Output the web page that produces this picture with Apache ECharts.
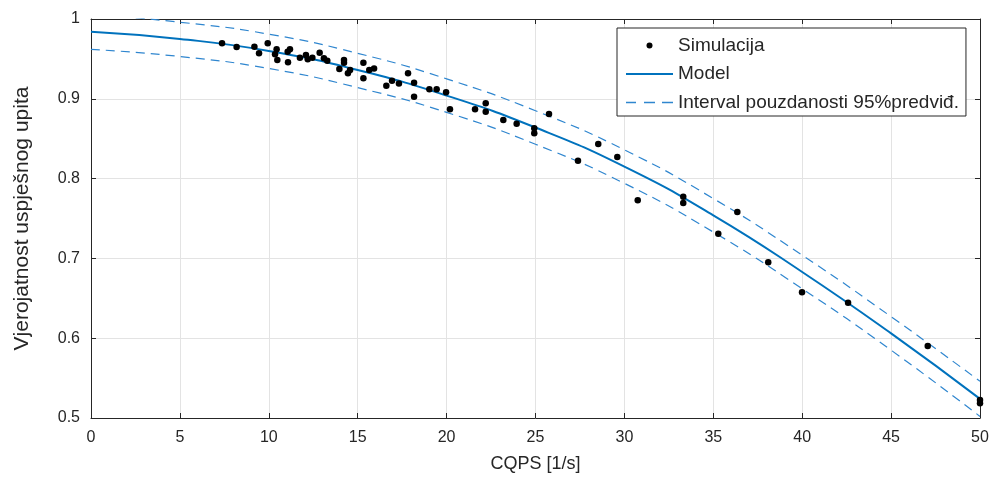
<!DOCTYPE html>
<html>
<head>
<meta charset="utf-8">
<script src="https://cdn.jsdelivr.net/npm/echarts@6/dist/echarts.min.js"></script>
<style>
html,body{margin:0;padding:0;background:#fff;}
#chart{width:992px;height:479px;}
</style>
</head>
<body>
<div id="chart"></div>
<script>
// ---- data ----
const simX = [7.37, 8.19, 9.19, 9.45, 9.94, 10.44, 10.35, 10.48, 11.06, 11.19, 11.08, 11.75, 12.09, 12.19, 12.45, 12.86, 13.10, 13.29,
  13.97, 14.23, 14.23, 14.45, 14.57, 15.32, 15.32, 15.65, 15.92, 16.61, 16.93, 17.32, 17.83, 18.17, 18.17, 19.03, 19.44, 19.97, 20.19,
  21.60, 22.20, 22.20, 23.19, 23.94, 24.93, 24.93, 25.76, 27.39, 28.53, 29.60, 30.75, 33.31, 33.31, 35.28, 36.35, 38.09, 39.99,
  42.58, 47.06, 50.0, 50.0];
const simY = [0.9695, 0.965, 0.9653, 0.957, 0.9695, 0.962, 0.9558, 0.9486, 0.959, 0.962, 0.9457, 0.9515, 0.955, 0.9495, 0.9515, 0.9578, 0.9507, 0.9478,
  0.9373, 0.9486, 0.9453, 0.932, 0.936, 0.9453, 0.9257, 0.936, 0.938, 0.9165, 0.9227, 0.9193, 0.932, 0.9202, 0.9026, 0.9119, 0.9119, 0.9081, 0.8868,
  0.8868, 0.8944, 0.8838, 0.8734, 0.8688, 0.863, 0.8568, 0.881, 0.8224, 0.8434, 0.827, 0.7728, 0.7774, 0.7694, 0.731, 0.7581, 0.6951, 0.6575,
  0.6445, 0.5902, 0.5226, 0.5184];
const curveX = [0, 5, 10, 15, 20, 25, 30, 35, 40, 45, 50];
const modelY = [0.984, 0.975, 0.960, 0.936, 0.904, 0.864, 0.815, 0.754, 0.683, 0.606, 0.524];
const upperY = [1.006, 0.996, 0.981, 0.957, 0.925, 0.885, 0.836, 0.775, 0.704, 0.627, 0.546];
const lowerY = [0.962, 0.953, 0.938, 0.914, 0.883, 0.843, 0.794, 0.733, 0.662, 0.585, 0.502];
const xTicks = [0, 5, 10, 15, 20, 25, 30, 35, 40, 45, 50];
const yTicks = [0.5, 0.6, 0.7, 0.8, 0.9, 1];
const legendNames = ['Simulacija', 'Model', 'Interval pouzdanosti 95%predviđ.'];
const xTitle = 'CQPS [1/s]';
const yTitle = 'Vjerojatnost uspješnog upita';

const FONT = 'Liberation Sans, Arial, sans-serif';
const TXT = '#262626';
const BLUE = '#0072BD';
const DASHBLUE = '#2f86cf';

const zip = (xs, ys) => xs.map((x, i) => [x, ys[i]]);

// legend icons (47 x 14 box kept by the leading move-to points)
const ICON_DOT = 'path://M0,0 M47,14 M20.5,7 A3,3 0 1 1 26.5,7 A3,3 0 1 1 20.5,7 Z';
const ICON_LINE = 'path://M0,0 M47,14 M0,6 L47,6 L47,8 L0,8 Z';
const ICON_DASH = 'path://M0,0 M47,14 M0,6.3 L10,6.3 L10,7.7 L0,7.7 Z M18,6.3 L29,6.3 L29,7.7 L18,7.7 Z M36,6.3 L47,6.3 L47,7.7 L36,7.7 Z';

const chart = echarts.init(document.getElementById('chart'), null, {renderer: 'canvas'});
const baseX = {
  type: 'value', min: xTicks[0], max: xTicks[xTicks.length - 1], interval: xTicks[1] - xTicks[0]
};
const baseY = {
  type: 'value', min: yTicks[0], max: yTicks[yTicks.length - 1], interval: 0.1
};
chart.setOption({
  animation: false,
  backgroundColor: '#ffffff',
  textStyle: {fontFamily: FONT},
  grid: {left: 91, top: 19, width: 889, height: 399, containLabel: false},
  legend: {
    orient: 'vertical', left: 617, top: 28,
    backgroundColor: '#ffffff', borderColor: TXT, borderWidth: 1,
    padding: [8, 7, 4, 9],
    itemWidth: 47, itemHeight: 14, itemGap: 9.5,
    textStyle: {fontFamily: FONT, fontSize: 19, color: TXT, lineHeight: 17},
    data: [
      {name: legendNames[0], icon: ICON_DOT, itemStyle: {color: '#000'}},
      {name: legendNames[1], icon: ICON_LINE, itemStyle: {color: BLUE}},
      {name: legendNames[2], icon: ICON_DASH, itemStyle: {color: DASHBLUE}}
    ]
  },
  xAxis: [
    Object.assign({}, baseX, {
      position: 'bottom',
      name: xTitle, nameLocation: 'middle', nameGap: 37,
      nameTextStyle: {fontFamily: FONT, fontSize: 18, color: TXT},
      axisLine: {show: true, onZero: false, lineStyle: {color: TXT, width: 1}},
      axisTick: {show: true, inside: true, length: 5, lineStyle: {color: TXT}},
      axisLabel: {show: true, margin: 12, fontFamily: FONT, fontSize: 16, color: TXT},
      splitLine: {show: true, lineStyle: {color: '#e3e3e3', width: 1}}
    }),
    Object.assign({}, baseX, {
      position: 'top',
      axisLine: {show: true, onZero: false, lineStyle: {color: TXT, width: 1}},
      axisTick: {show: true, inside: true, length: 5, lineStyle: {color: TXT}},
      axisLabel: {show: false},
      splitLine: {show: false}
    })
  ],
  yAxis: [
    Object.assign({}, baseY, {
      position: 'left',
      name: yTitle, nameLocation: 'middle', nameGap: 58, nameRotate: 90,
      nameTextStyle: {fontFamily: FONT, fontSize: 21, color: TXT},
      axisLine: {show: true, onZero: false, lineStyle: {color: TXT, width: 1}},
      axisTick: {show: true, inside: true, length: 5, lineStyle: {color: TXT}},
      axisLabel: {show: true, margin: 11, fontFamily: FONT, fontSize: 16, color: TXT},
      splitLine: {show: true, lineStyle: {color: '#e3e3e3', width: 1}}
    }),
    Object.assign({}, baseY, {
      position: 'right',
      axisLine: {show: true, onZero: false, lineStyle: {color: TXT, width: 1}},
      axisTick: {show: true, inside: true, length: 5, lineStyle: {color: TXT}},
      axisLabel: {show: false},
      splitLine: {show: false}
    })
  ],
  series: [
    {
      name: legendNames[0], type: 'scatter', data: zip(simX, simY),
      symbol: 'circle', symbolSize: 6.5, itemStyle: {color: '#000', opacity: 1}, z: 5
    },
    {
      name: legendNames[1], type: 'line', data: zip(curveX, modelY), smooth: 0.5,
      showSymbol: false, symbol: 'none', lineStyle: {color: BLUE, width: 2}, itemStyle: {color: BLUE}, z: 3
    },
    {
      name: legendNames[2], type: 'line', data: zip(curveX, upperY), smooth: 0.5,
      showSymbol: false, symbol: 'none', lineStyle: {color: DASHBLUE, width: 1.2, type: [9, 6]}, itemStyle: {color: DASHBLUE}, z: 3
    },
    {
      name: legendNames[2], type: 'line', data: zip(curveX, lowerY), smooth: 0.5,
      showSymbol: false, symbol: 'none', lineStyle: {color: DASHBLUE, width: 1.2, type: [9, 6]}, itemStyle: {color: DASHBLUE}, z: 3
    }
  ]
});
</script>
</body>
</html>
